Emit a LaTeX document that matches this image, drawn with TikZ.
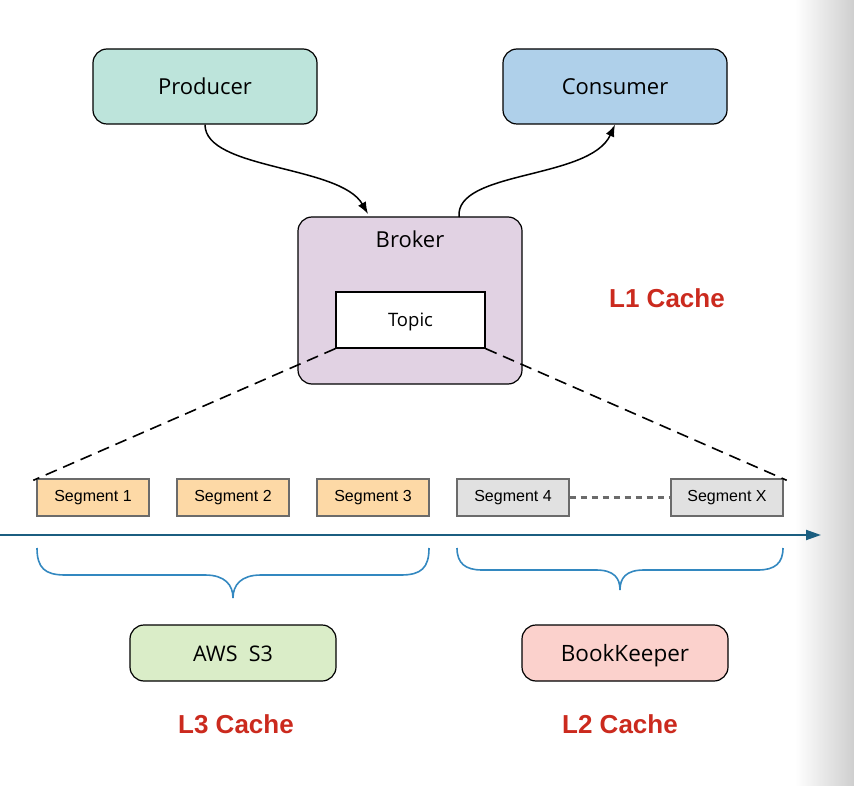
\documentclass[tikz,border=0pt]{standalone}
\usepackage{fontspec}
\setmainfont{Open Sans}
\newfontfamily\arialfont{Liberation Sans}
\usetikzlibrary{arrows.meta}

\definecolor{prodfill}{HTML}{BDE4DB}
\definecolor{consfill}{HTML}{AFD0EA}
\definecolor{brokfill}{HTML}{E1D2E3}
\definecolor{segorange}{HTML}{FDD9A6}
\definecolor{seggray}{HTML}{E1E1E1}
\definecolor{segline}{HTML}{6B6B6B}
\definecolor{s3fill}{HTML}{DAEDC8}
\definecolor{bkfill}{HTML}{FBD1CC}
\definecolor{cachered}{HTML}{CB2A1E}
\definecolor{axisblue}{HTML}{1B5E80}
\definecolor{braceblue}{HTML}{3388C0}

\tikzset{
  roundbox/.style={draw=black,line width=1.2pt,rounded corners=14pt,text height=20pt,text depth=4pt,font=\fontsize{22}{26}\selectfont},
  segbox/.style={draw=segline,line width=1.4pt,minimum width=112pt,minimum height=37pt,inner sep=0pt,font=\arialfont\fontsize{16}{18}\selectfont},
  cachelabel/.style={text=cachered,font=\arialfont\bfseries\fontsize{26}{30}\selectfont},
  bracepath/.style={draw=braceblue,line width=1.6pt}
}

\begin{document}
\begin{tikzpicture}[x=1pt,y=-1pt]
  \useasboundingbox (0,0) rectangle (854,786);
  \shade[left color=white,right color=gray!38] (795,0) rectangle (854,786);

  \node[roundbox,fill=prodfill,minimum width=224pt,minimum height=75pt] (producer) at (205,86.5) {Producer};
  \node[roundbox,fill=consfill,minimum width=224pt,minimum height=75pt] (consumer) at (615,86.5) {Consumer};
  \node[roundbox,fill=brokfill,minimum width=224pt,minimum height=167pt] (broker) at (410,300.5) {};
  \node[font=\fontsize{22}{26}\selectfont] (brokerlabel) at (410,239) {Broker};
  \node[draw=black,line width=1.2pt,fill=white,minimum width=149pt,minimum height=56pt] (topic) at (410.5,320) {};
  \node[font=\fontsize{18.5}{22}\selectfont] (topiclabel) at (410.5,322) {Topic};

  \node[segbox,fill=segorange] (seg1) at (93,497.5) {Segment 1};
  \node[segbox,fill=segorange] (seg2) at (233,497.5) {Segment 2};
  \node[segbox,fill=segorange] (seg3) at (373,497.5) {Segment 3};
  \node[segbox,fill=seggray] (seg4) at (513,497.5) {Segment 4};
  \node[segbox,fill=seggray] (segx) at (727,497.5) {Segment X};

  \node[roundbox,fill=s3fill,minimum width=206pt,minimum height=56pt,font=\fontsize{21.5}{26}\selectfont] (s3) at (233,653) {AWS\ \ S3};
  \node[roundbox,fill=bkfill,minimum width=206pt,minimum height=56pt,font=\fontsize{22.5}{26}\selectfont] (bk) at (625,653) {BookKeeper};

  \node[cachelabel] (l1) at (667,298) {L1 Cache};
  \node[cachelabel] (l3) at (236,724) {L3 Cache};
  \node[cachelabel] (l2) at (620,724) {L2 Cache};

  \draw[line width=1.5pt,-{Latex[length=12pt,width=9pt]}] (producer.south) .. controls (205,170) and (340,165) .. (368,214);
  \draw[line width=1.5pt,-{Latex[length=12pt,width=9pt]}] (459,217) .. controls (455,170) and (590,180) .. (consumer.south);

  \draw[line width=1.6pt,dash pattern=on 12pt off 7pt] (topic.south west) -- ([xshift=-3pt,yshift=-2pt]seg1.north west);
  \draw[line width=1.6pt,dash pattern=on 12pt off 7pt] (topic.south east) -- ([xshift=3pt,yshift=-2pt]segx.north east);
  \draw[segline,line width=2.2pt,dash pattern=on 6pt off 5pt] (seg4.east) -- (segx.west);

  \coordinate (axisstart) at (0,535);
  \coordinate (axisend) at (821,535);
  \draw[axisblue,line width=2pt,-{Triangle[length=15pt,width=10pt]}] (axisstart) -- (axisend);

  \draw[bracepath] (37,548) .. controls (37,568) and (45,575) .. (65,575) -- (205,575)
    .. controls (225,575) and (233,585) .. (233,598)
    .. controls (233,585) and (241,575) .. (261,575) -- (401,575)
    .. controls (421,575) and (429,568) .. (429,548);
  \draw[bracepath] (457,548) .. controls (457,563) and (465,570) .. (482,570) -- (596,570)
    .. controls (614,570) and (620,578) .. (620,590)
    .. controls (620,578) and (626,570) .. (644,570) -- (758,570)
    .. controls (775,570) and (783,563) .. (783,548);
\end{tikzpicture}
\end{document}
